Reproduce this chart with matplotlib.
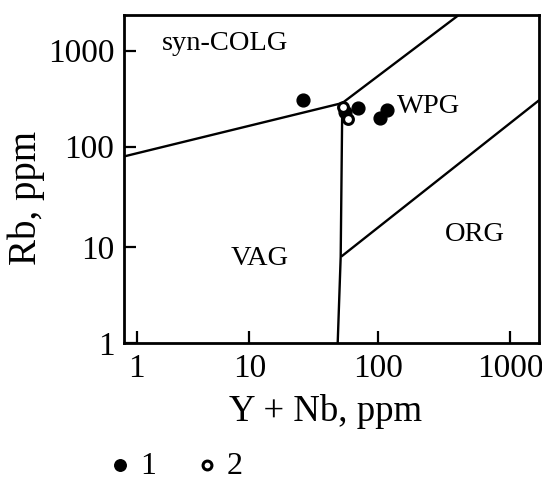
import numpy as np
import matplotlib
matplotlib.use('Agg')
import matplotlib.pyplot as plt

plt.rcParams['font.family'] = ['Liberation Serif', 'DejaVu Serif']

# ---- data (Y+Nb, Rb in ppm) ----
s1_x = [26, 55.6, 70, 117, 104]
s1_y = [306, 232, 255, 241, 198]
s2_x = [54, 59]
s2_y = [261, 193]

# ---- discrimination boundaries ----
colg_vag_x = [0.77, 53]
colg_vag_y = [80, 285]
colg_wpg_x = [53, 410]
colg_wpg_y = [285, 2355]
vag_wpg_x = [48.8, 51.5, 53]
vag_wpg_y = [1, 8, 285]
org_wpg_x = [52.0, 1666]
org_wpg_y = [8, 306]

xticks = [1, 10, 100, 1000]
yticks = [1, 10, 100, 1000]
tick_labels = ['1', '10', '100', '1000']

fields = [('syn-COLG', 0.092, 0.912), ('WPG', 0.657, 0.72),
          ('VAG', 0.258, 0.258), ('ORG', 0.773, 0.33)]

# ---- piecewise log scales (original figure has uneven decades) ----
xl = [-1, 0, 1, 2, 3, 4]
xp = [24.1, 136.7, 249.3, 377.7, 510.0, 642.3]
yl = [-1, 0, 1, 2, 3, 4]
yp = [-96.0, 0.0, 96.0, 196.6, 292.6, 388.6]


def fx(v):
    return np.interp(np.log10(np.clip(v, 1e-12, None)), xl, xp)


def ix(p):
    return 10 ** np.interp(p, xp, xl)


def fy(v):
    return np.interp(np.log10(np.clip(v, 1e-12, None)), yl, yp)


def iy(p):
    return 10 ** np.interp(p, yp, yl)


W, H = 542, 483
fig = plt.figure(figsize=(W / 100, H / 100), dpi=100)
ax = fig.add_axes([124 / W, (H - 343.3) / H, (539.3 - 124) / W, (343.3 - 15) / H])
ax.set_xscale('function', functions=(fx, ix))
ax.set_yscale('function', functions=(fy, iy))
ax.set_xlim(0.771, 1666)
ax.set_ylim(1, 2355)

lw = 1.7
for bx, by in [(colg_vag_x, colg_vag_y), (colg_wpg_x, colg_wpg_y),
               (vag_wpg_x, vag_wpg_y), (org_wpg_x, org_wpg_y)]:
    ax.plot(bx, by, color='black', lw=lw, zorder=2, solid_capstyle='butt')

h1 = ax.scatter(s1_x, s1_y, s=85, color='black', zorder=3)
h2 = ax.scatter(s2_x, s2_y, s=50, facecolor='white', edgecolor='black',
                linewidths=2.2, zorder=4)

for name, fxp, fyp in fields:
    ax.text(fxp, fyp, name, transform=ax.transAxes, fontsize=20.5,
            ha='left', va='center')

ax.set_xticks(xticks)
ax.set_xticklabels(tick_labels)
ax.set_yticks(yticks)
ax.set_yticklabels(tick_labels)
ax.minorticks_off()
ax.tick_params(direction='in', length=8.6, width=1.6, labelsize=24, pad=7.5)
ax.tick_params(axis='y', pad=7)
for sp in ax.spines.values():
    sp.set_linewidth(2)

ax.set_xlabel('Y + Nb, ppm', fontsize=26.5)
ax.set_ylabel('Rb, ppm', fontsize=28)
ax.xaxis.set_label_coords(0.485, -0.155)
ax.yaxis.set_label_coords(-0.19, 0.443)

fig.legend([h1, h2], ['1', '2'], loc='center left',
           bbox_to_anchor=(112.4 / W, 1 - 466 / H), ncol=2, frameon=False,
           fontsize=23, handlelength=0.5, handletextpad=0.36,
           columnspacing=1.36, borderpad=0, borderaxespad=0,
           markerscale=0.9, scatterpoints=1)

fig.savefig('out.png', dpi=100)
